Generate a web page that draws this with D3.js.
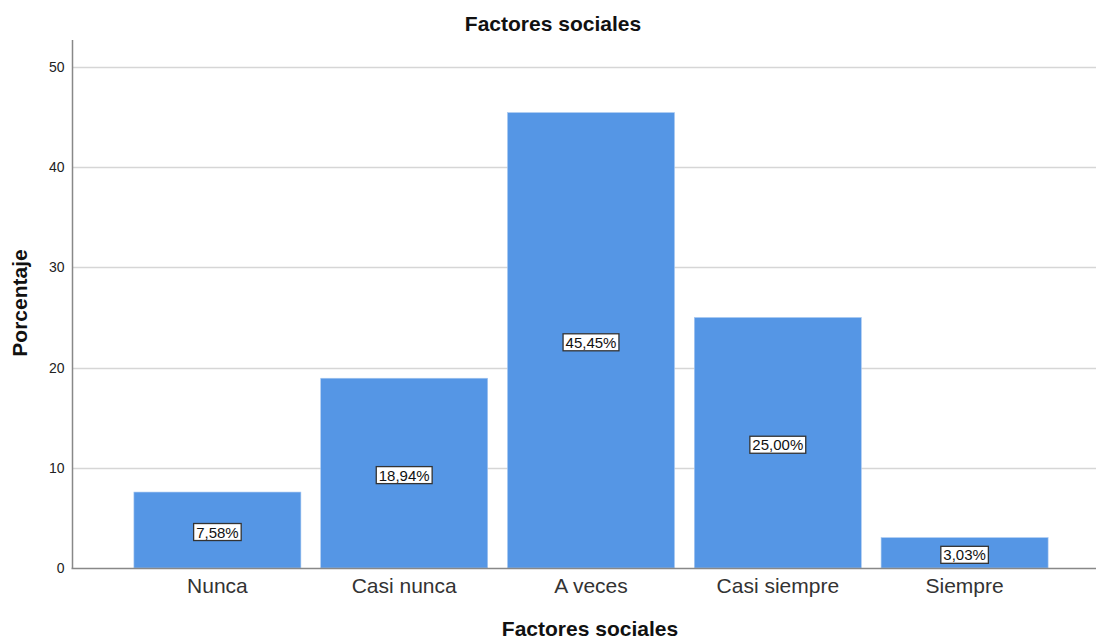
<!DOCTYPE html>
<html>
<head>
<meta charset="utf-8">
<script src="https://cdn.jsdelivr.net/npm/d3@7"></script>
<style>
  html, body { margin: 0; padding: 0; background: #fff; }
  svg { display: block; font-family: Arial, "Liberation Sans", sans-serif; }
</style>
</head>
<body>
<svg id="chart" width="1096" height="639"></svg>
<script>
// Data
const categories = ["Nunca", "Casi nunca", "A veces", "Casi siempre", "Siempre"];
const values = [7.58, 18.94, 45.45, 25.00, 3.03];
const yTicks = [0, 10, 20, 30, 40, 50];
const chartTitle = "Factores sociales";
const xTitle = "Factores sociales";
const yTitle = "Porcentaje";

const svg = d3.select("#chart");
const plot = { left: 72.5, right: 1096, top: 40, bottom: 568 };

const x = d3.scaleBand()
  .domain(categories)
  .range([124, 1058])
  .paddingInner(0.106)
  .paddingOuter(0.053);

const y = d3.scaleLinear()
  .domain([0, 50])
  .range([568, 67]);

// Gridlines
svg.append("g")
  .selectAll("line")
  .data(yTicks.filter(d => d > 0))
  .join("line")
  .attr("x1", plot.left).attr("x2", plot.right)
  .attr("y1", d => Math.round(y(d)) + 0.5).attr("y2", d => Math.round(y(d)) + 0.5)
  .attr("stroke", "#d6d6d6").attr("stroke-width", 1.5);

// Bars
svg.append("g")
  .selectAll("rect")
  .data(categories.map((c, i) => ({ c, v: values[i] })))
  .join("rect")
  .attr("x", d => x(d.c))
  .attr("y", d => y(d.v))
  .attr("width", x.bandwidth())
  .attr("height", d => y(0) - y(d.v))
  .attr("fill", "#5596e5")
  .attr("stroke", "#a9c8f0")
  .attr("stroke-width", 0.6);

// Y axis
const yAxis = d3.axisLeft(y).tickValues(yTicks).tickSize(0).tickPadding(8);
const gy = svg.append("g").attr("transform", `translate(${plot.left},0)`).call(yAxis);
gy.select(".domain").remove();
gy.selectAll("text")
  .attr("font-size", 14).attr("fill", "#222")
  .attr("font-family", "Arial, 'Liberation Sans', sans-serif");
svg.append("line")
  .attr("x1", plot.left).attr("x2", plot.left)
  .attr("y1", plot.top).attr("y2", plot.bottom)
  .attr("stroke", "#888").attr("stroke-width", 1.5);

// X axis
const xAxis = d3.axisBottom(x).tickSize(0).tickPadding(10);
const gx = svg.append("g").attr("transform", `translate(0,${plot.bottom})`).call(xAxis);
gx.select(".domain").remove();
gx.selectAll("text")
  .attr("font-size", 21).attr("fill", "#333")
  .attr("font-family", "Arial, 'Liberation Sans', sans-serif");
svg.append("line")
  .attr("x1", plot.left - 1).attr("x2", plot.right)
  .attr("y1", plot.bottom + 0.5).attr("y2", plot.bottom + 0.5)
  .attr("stroke", "#888").attr("stroke-width", 1.5);

// Value labels
const fmt = v => v.toFixed(2).replace(".", ",") + "%";
const labels = svg.append("g")
  .selectAll("g")
  .data(categories.map((c, i) => ({ c, v: values[i] })))
  .join("g")
  .attr("transform", d => `translate(${x(d.c) + x.bandwidth() / 2},${(y(d.v) + y(0)) / 2 + 2})`);
labels.each(function(d) {
  const g = d3.select(this);
  const t = g.append("text")
    .attr("text-anchor", "middle")
    .attr("dominant-baseline", "central")
    .attr("font-size", 15)
    .attr("fill", "#111")
    .text(fmt(d.v));
  const bb = t.node().getBBox();
  g.insert("rect", "text")
    .attr("x", bb.x - 2.5).attr("y", bb.y)
    .attr("width", bb.width + 5).attr("height", bb.height)
    .attr("fill", "#fff").attr("stroke", "#333").attr("stroke-width", 1.3);
});

// Titles
svg.append("text")
  .attr("x", 553).attr("y", 31)
  .attr("text-anchor", "middle")
  .attr("font-size", 21).attr("font-weight", "bold").attr("fill", "#111")
  .text(chartTitle);

svg.append("text")
  .attr("x", 590).attr("y", 636)
  .attr("text-anchor", "middle")
  .attr("font-size", 21).attr("font-weight", "bold").attr("fill", "#111")
  .text(xTitle);

svg.append("text")
  .attr("transform", "translate(27,303) rotate(-90)")
  .attr("text-anchor", "middle")
  .attr("font-size", 21).attr("font-weight", "bold").attr("fill", "#111")
  .text(yTitle);
</script>
</body>
</html>
